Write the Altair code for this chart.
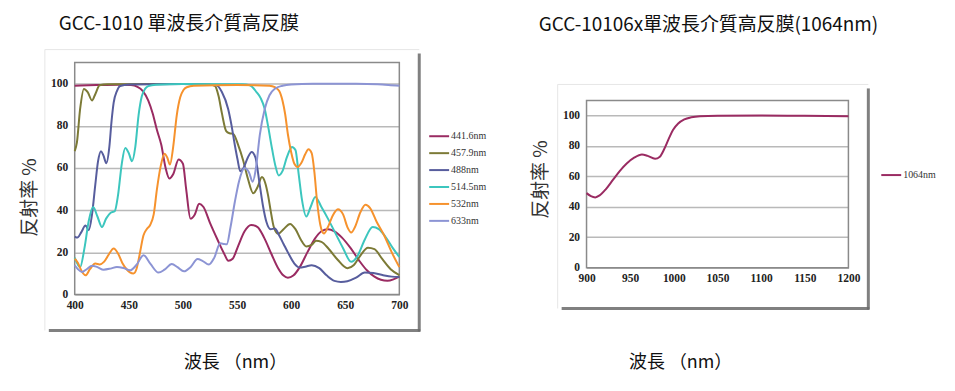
import altair as alt
import pandas as pd

# ---------------- Left chart data (wavelength nm -> reflectance %) ----------------
S441_nm = [400, 420, 440, 452, 458, 463, 468, 472, 476, 480, 484, 487.5, 491, 496, 500, 503, 507, 511, 515, 519,
           525, 532, 538, 542, 546, 551, 557, 563, 569, 575, 582, 588, 593, 597, 602, 608, 615, 622, 628, 634,
           640, 647, 655, 663, 670, 677, 683, 689, 695, 700]
S441_R = [99, 99.3, 99.5, 99.3, 98.5, 96.5, 92, 86, 78, 71, 60, 55, 57, 64, 62, 50, 36, 38, 43, 41.5,
          34, 26, 19.5, 16, 17, 23, 30, 33, 32, 27, 19, 12.5, 9, 8, 9, 13, 20, 26.5, 30, 31,
          30, 27, 22, 16, 11.5, 8.5, 7, 6.5, 7.3, 8.5]

S457_nm = [400, 402, 405, 408.5, 412, 416, 419, 423, 430, 500, 524, 529.5, 533, 536, 540, 543, 546.5, 551, 555.7, 560,
           565, 569, 573, 576, 578.7, 581, 584, 588, 593, 599, 604, 609, 614, 619, 623, 628, 635, 643, 652, 658,
           664, 671, 677, 684, 692, 700]
S457_R = [68, 72, 88, 97.5, 96, 92, 95, 99.2, 99.7, 99.8, 99.6, 99, 94, 86, 77.5, 76.5, 76.2, 71, 63.6, 55,
          48, 51, 55.7, 53, 47, 40, 32, 28.8, 31, 33.5, 31, 26, 22.8, 23.5, 25.5, 25, 21.5, 16.5, 12.5, 14,
          18.5, 22.2, 21.5, 17, 12, 9.2]

S488_nm = [400, 402.5, 406, 410, 413, 416, 419, 421.5, 424.3, 426.5, 429.2, 432, 434, 436, 439, 442, 450, 500, 531, 536,
           541.8, 545, 548, 550.5, 553, 556, 560, 563.5, 567, 571, 574, 577.2, 581, 584.9, 589, 593, 597, 603, 608, 613,
           619, 626, 633, 640, 646, 652, 660, 668, 676, 685, 693, 700]
S488_R = [27.5, 27, 29.5, 32.7, 30.5, 38, 52, 63, 68, 66, 62.3, 70, 82, 91, 96.5, 98.9, 99.6, 99.8, 99.2, 96,
          88, 80, 70.8, 64, 58.5, 60, 65, 67.6, 65, 52, 42, 34.4, 31, 31.3, 28, 24, 20, 14.7, 12.8, 13.2,
          13.9, 12.5, 9, 6.5, 6, 6.3, 8, 10.4, 10.2, 9.2, 8.5, 8.3]

S514_nm = [400, 405, 409, 413, 417, 421, 425.2, 429, 433, 437, 440, 443.5, 446.7, 450, 452.9, 456, 459, 462, 465, 468,
           475, 500, 555, 561.8, 568, 572, 575.6, 579, 582.4, 585.5, 588.5, 592, 596, 600.8, 604, 607, 610, 614, 618, 622.3,
           628, 634, 641, 648, 655.5, 661, 668, 675.4, 681, 687, 694, 700]
S514_R = [17.5, 13, 22, 35, 41.5, 37, 32, 36, 38.7, 39.5, 47, 62, 69.5, 67, 63.2, 70, 85, 94, 97.5, 98.8,
          99.5, 99.8, 99.7, 99.2, 96, 93, 88, 79, 69, 61, 56.5, 58.5, 65, 70, 68.5, 57, 45, 37, 41.5, 46.3,
          41.5, 36, 29, 22, 15.5, 18, 26, 32, 31, 27.5, 22, 17.8]

S532_nm = [400, 403, 406.5, 410, 414, 419, 423, 427, 431.5, 436, 440, 444, 448, 451, 454.3, 457, 460, 463.5, 466.5, 469.7,
           473, 476, 479.5, 483, 485.5, 488, 491, 494.3, 497.5, 500.5, 503.5, 510, 550, 580, 585, 589, 592, 594.5, 597, 600,
           603, 606, 609.5, 613, 616, 619, 621.5, 624, 627, 630.3, 634, 638.5, 643.2, 648, 652, 655.5, 659, 664, 668.7, 673,
           679, 686, 693, 700]
S532_R = [17, 15, 11, 9.1, 12, 14.7, 14.3, 15.5, 19, 21.8, 19.5, 15, 12, 10.5, 10, 12, 19, 28, 31, 33,
          38, 50, 61, 66.8, 65, 61.6, 70, 85, 93.5, 97, 98.3, 99, 99.3, 99, 98.3, 96.5, 92, 85.5, 76, 67.6,
          62, 60.5, 62.5, 66.5, 68.9, 67, 58, 44, 33, 28.9, 32, 37.5, 40.4, 38, 32, 29.4, 32, 39, 42.6, 41,
          34.5, 28, 20, 13]

S633_nm = [400, 403, 406.8, 411, 416, 421, 426.7, 433, 439, 445, 451.3, 457, 463.6, 470, 477.4, 483, 489.7, 495, 501, 507,
           513.5, 518, 524, 529, 534.5, 538, 540.5, 544, 548, 552, 557, 561, 564.5, 567.5, 571, 575.6, 580, 585, 592, 600,
           620, 660, 680, 690, 700]
S633_R = [13.9, 12, 10.7, 12, 13.7, 13, 11.8, 12.3, 13.1, 12.6, 11.5, 14, 18.6, 14.5, 10.4, 11.8, 14.5, 13, 11, 13,
          16.8, 16, 14.2, 17.5, 24.3, 24, 23.8, 32, 44, 54, 60, 58, 53.5, 60, 75.5, 88, 94.5, 97.6, 99, 99.6,
          99.9, 99.9, 99.7, 99.4, 99]

left_names = ["441.6nm", "457.9nm", "488nm", "514.5nm", "532nm", "633nm"]
left_colors = ["#9A2B62", "#7C7A36", "#575D9D", "#3CC6BE", "#F6922D", "#8C94D4"]
left_series = [(S441_nm, S441_R), (S457_nm, S457_R), (S488_nm, S488_R),
               (S514_nm, S514_R), (S532_nm, S532_R), (S633_nm, S633_R)]

# ---------------- Right chart data ----------------
S1064_nm = [900, 905, 910, 915, 922, 930, 938, 946, 955, 963.5, 970, 978.5, 984, 989, 994, 999, 1005, 1012, 1020, 1030,
            1050, 1100, 1150, 1200]
S1064_R = [49, 47, 46.2, 47.5, 51.5, 57.5, 63.5, 68.5, 72.5, 74.4, 73.5, 71.6, 73, 78, 84.5, 90.5, 94.8, 97.5, 98.9, 99.6,
           99.9, 100, 99.9, 99.5]
right_names = ["1064nm"]
right_colors = ["#9A2B62"]

left_ticks_x = [400, 450, 500, 550, 600, 650, 700]
right_ticks_x = [900, 950, 1000, 1050, 1100, 1150, 1200]
ticks_y = [0, 20, 40, 60, 80, 100]
y_domain = [0, 110]

rows = []
for name, (xs, ys) in zip(left_names, left_series):
    assert len(xs) == len(ys), name
    for a, b in zip(xs, ys):
        rows.append({"series": name, "nm": a, "R": b})
left_df = pd.DataFrame(rows)
assert len(S1064_nm) == len(S1064_R)
right_df = pd.DataFrame({"series": "1064nm", "nm": S1064_nm, "R": S1064_R})

LAB_FONT = "Liberation Serif"
CJK = "Noto Sans CJK TC"
GRID = "#b9b9b9"
FRAME = "#8a8a8a"
SHADOW = "#6a6a6a"


def make_panel(df, names, colors, xdom, xticks, w, h, yrange, title, title_dx, title_offset,
               ytx, yty, xtx, xty, lx, ly, px0, px1, py0, py1, bx0, bx1):
    xscale = alt.Scale(domain=xdom, nice=False, zero=False)
    yscale = alt.Scale(domain=y_domain, nice=False, range=yrange)
    xaxis = alt.Axis(values=xticks, format="d", grid=False, domain=False, ticks=False, labelPadding=5,
                     labelFlush=False, labelFont=LAB_FONT, labelFontSize=11.5, labelColor="#222",
                     labelFontWeight="bold",
                     title="波長 （nm）", titleFont=CJK, titleFontSize=18, titleFontWeight="normal",
                     titleColor="#111", titleX=xtx, titleY=xty, titleAlign="center", titleBaseline="middle")
    yaxis = alt.Axis(values=ticks_y, grid=True, gridColor=GRID, gridWidth=1.5, domain=False, ticks=False,
                     labelPadding=7, labelFlush=False, labelFont=LAB_FONT, labelFontSize=11.5, labelColor="#222",
                     labelFontWeight="bold",
                     title="反射率 %", titleFont=CJK, titleFontSize=19, titleFontWeight="normal",
                     titleColor="#333", titleX=ytx, titleY=yty, titleAlign="center",
                     titleBaseline="middle", titleAngle=270)
    lines = alt.Chart(df).mark_line(interpolate="monotone", strokeWidth=2).encode(
        x=alt.X("nm:Q", scale=xscale, axis=xaxis),
        y=alt.Y("R:Q", scale=yscale, axis=yaxis),
        color=alt.Color("series:N", sort=names, scale=alt.Scale(domain=names, range=colors),
                        legend=alt.Legend(title=None, orient="none", legendX=lx, legendY=ly,
                                          symbolType="stroke", symbolStrokeWidth=2, symbolSize=400,
                                          labelFont=LAB_FONT, labelFontSize=10, labelColor="#333",
                                          rowPadding=1, labelOffset=1)),
    )
    one = pd.DataFrame({"k": [0]})
    frame = alt.Chart(one).mark_rect(filled=False, stroke=FRAME, strokeWidth=1.5).encode(
        x=alt.datum(xdom[0], scale=xscale), x2=alt.datum(xdom[1]),
        y=alt.datum(y_domain[0], scale=yscale), y2=alt.datum(y_domain[1]))
    shadow_r = alt.Chart(one).mark_rule(color=SHADOW, strokeWidth=3, opacity=0.85).encode(
        x=alt.value(px1), y=alt.value(py0 + 4), y2=alt.value(py1 + 1))
    shadow_b = alt.Chart(one).mark_rule(color=SHADOW, strokeWidth=3, opacity=0.85).encode(
        x=alt.value(px0 + 4), x2=alt.value(px1 + 1), y=alt.value(py1))
    edge_t = alt.Chart(one).mark_rule(color="#e6e6e6", strokeWidth=1).encode(
        x=alt.value(px0), x2=alt.value(px1), y=alt.value(py0))
    edge_l = alt.Chart(one).mark_rule(color="#e6e6e6", strokeWidth=1).encode(
        x=alt.value(px0), y=alt.value(py0), y2=alt.value(py1))
    # invisible (white) horizontal extent keepers for the concat layout
    keep_l = alt.Chart(one).mark_rule(color="white", strokeWidth=1).encode(
        x=alt.value(bx0), y=alt.value(h * 0.5), y2=alt.value(h * 0.5 + 1))
    keep_r = alt.Chart(one).mark_rule(color="white", strokeWidth=1).encode(
        x=alt.value(bx1), y=alt.value(h * 0.5), y2=alt.value(h * 0.5 + 1))
    return alt.layer(keep_l, keep_r, edge_t, edge_l, shadow_r, shadow_b, frame, lines).properties(
        width=w, height=h,
        title=alt.Title(title, anchor="start", frame="group", dx=title_dx, offset=title_offset,
                        font=CJK, fontSize=19, fontWeight="normal", color="#111"))


# left plot area: page x 74..400, y 61..294 ; right: x 586..849, y 99..267 (group top shared at 61)
left = make_panel(left_df, left_names, left_colors, [400, 700], left_ticks_x, 326, 233, [233, 0],
                  "GCC-1010 單波長介質高反膜", -16, 15,
                  -45, 135, 161, 68, 355, 63, -30, 346, -13, 269, -66, 426)
right = make_panel(right_df, right_names, right_colors, [900, 1200], right_ticks_x, 263, 206, [206, 38],
                   "GCC-10106x單波長介質高反膜(1064nm)", -48, 28,
                   -46, 117, 94, 95, 295, 102, -29, 283, 22, 247, -81, 361)

chart = alt.hconcat(left, right, spacing=5).resolve_scale(color="independent").properties(
    padding={"left": 0, "top": 6, "right": 0, "bottom": 0},
    background="white",
).configure_view(strokeWidth=0)

chart.save("out.html", embed_options={"renderer": "svg", "actions": False})
